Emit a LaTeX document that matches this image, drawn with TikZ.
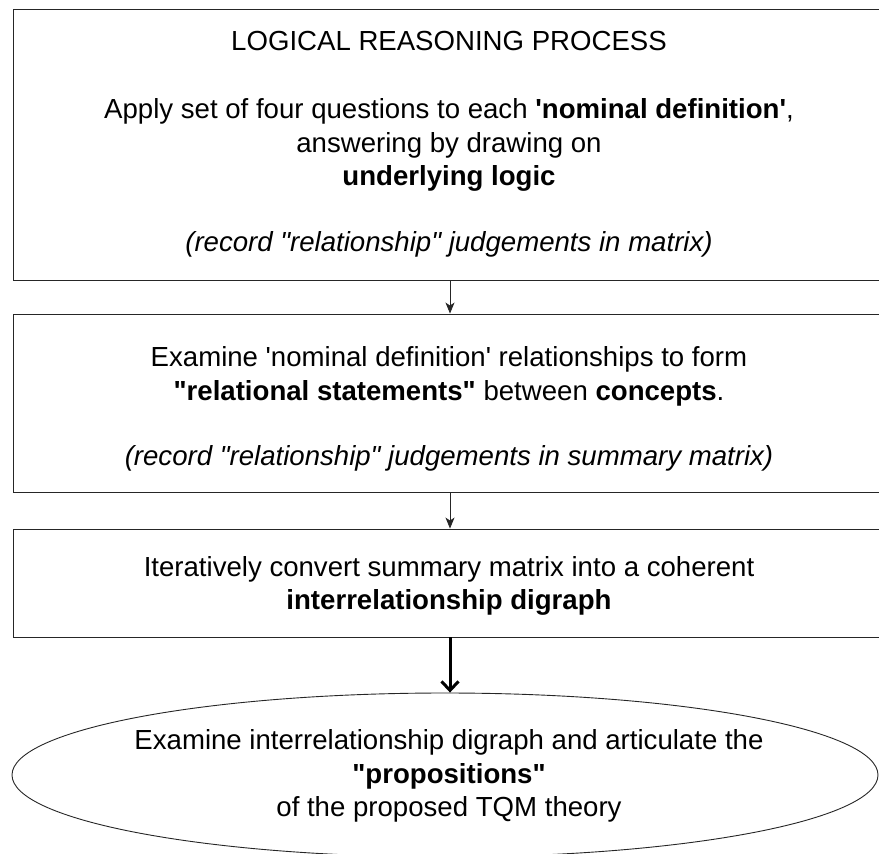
\documentclass[tikz,border=0pt]{standalone}
\usepackage{fontspec}
% straight quote marks are wanted, so the TeX quote ligatures are switched off
\setmainfont{Liberation Sans}[Ligatures=TeXOff]
\usetikzlibrary{arrows.meta,shapes.geometric}
\tikzset{
  stagebox/.style={draw=black!85, line width=0.9pt, rectangle, inner sep=0pt,
    minimum width=872pt},
  stageoval/.style={draw=black!85, line width=0.9pt, ellipse, inner sep=0pt,
    minimum width=866pt, minimum height=164pt},
  stagetext/.style={align=center, inner sep=0pt,
    font=\fontsize{27.6}{33.4}\selectfont},
  thinflow/.style={draw=black!85, line width=0.8pt,
    -{Stealth[length=11pt,width=9pt,inset=3pt]}},
  boldflow/.style={draw=black, line width=3pt,
    -{Straight Barb[length=9pt,width=17pt,line width=3pt]}}
}
\begin{document}
\begin{tikzpicture}[x=1pt,y=-1pt]
  \useasboundingbox (0,0) rectangle (879,854);

  % process stages
  \node[stagebox, minimum height=271pt] (reason)  at (449,144.5) {};
  \node[stagebox, minimum height=178pt] (examine) at (449,403) {};
  \node[stagebox, minimum height=108pt] (convert) at (449,583) {};
  \node[stageoval] (propose) at (445,775) {};

  % stage texts
  \node[stagetext] (reasontext) at (449,144)
    {LOGICAL REASONING PROCESS\\[35pt]
     Apply set of four questions to each \textbf{'nominal definition'},\\
     answering by drawing on\\
     \textbf{underlying logic}\\[32pt]
     \textit{(record "relationship" judgements in matrix)}};

  \node[stagetext] (examinetext) at (449,409)
    {Examine 'nominal definition' relationships to form\\
     \textbf{"relational statements"} between \textbf{concepts}.\\[32pt]
     \textit{(record "relationship" judgements in summary matrix)}};

  \node[stagetext] (converttext) at (449,586)
    {Iteratively convert summary matrix into a coherent\\
     \textbf{interrelationship digraph}};

  \node[stagetext] (proposetext) at (449,776)
    {Examine interrelationship digraph and articulate the\\
     \textbf{"propositions"}\\
     of the proposed TQM theory};

  % flow between stages
  \draw[thinflow] (reason.south -| 450,0) -- (examine.north -| 450,0);
  \draw[thinflow] (examine.south -| 450,0) -- (convert.north -| 450,0);
  \draw[boldflow] (convert.south -| 450,0) -- (propose.north -| 450,0);
\end{tikzpicture}
\end{document}
